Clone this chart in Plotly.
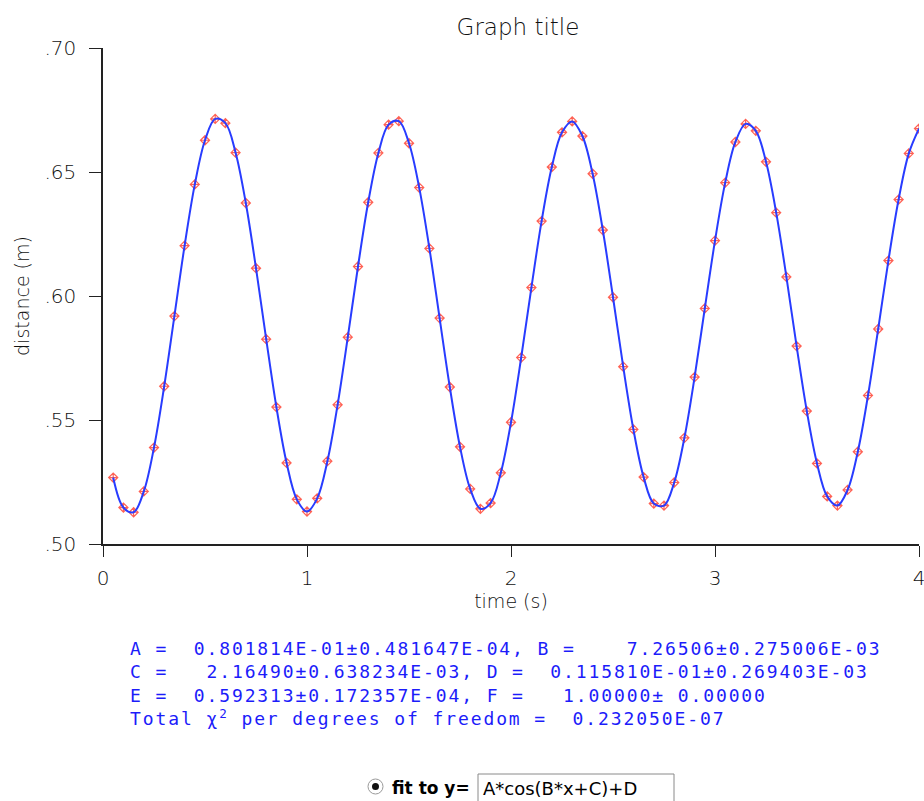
import plotly.graph_objects as go

# ---- data (time in s, distance in m) ----
time_s = [0.05, 0.10, 0.15, 0.20, 0.25, 0.30, 0.35, 0.40, 0.45, 0.50,
          0.55, 0.60, 0.65, 0.70, 0.75, 0.80, 0.85, 0.90, 0.95, 1.00,
          1.05, 1.10, 1.15, 1.20, 1.25, 1.30, 1.35, 1.40, 1.45, 1.50,
          1.55, 1.60, 1.65, 1.70, 1.75, 1.80, 1.85, 1.90, 1.95, 2.00,
          2.05, 2.10, 2.15, 2.20, 2.25, 2.30, 2.35, 2.40, 2.45, 2.50,
          2.55, 2.60, 2.65, 2.70, 2.75, 2.80, 2.85, 2.90, 2.95, 3.00,
          3.05, 3.10, 3.15, 3.20, 3.25, 3.30, 3.35, 3.40, 3.45, 3.50,
          3.55, 3.60, 3.65, 3.70, 3.75, 3.80, 3.85, 3.90, 3.95, 4.00]

distance_m = [0.5268, 0.5147, 0.5128, 0.5212, 0.5389, 0.5636, 0.5919, 0.6203, 0.6450, 0.6628,
              0.6714, 0.6697, 0.6578, 0.6375, 0.6112, 0.5826, 0.5552, 0.5327, 0.5180, 0.5131,
              0.5184, 0.5334, 0.5561, 0.5834, 0.6119, 0.6378, 0.6577, 0.6691, 0.6705, 0.6616,
              0.6437, 0.6192, 0.5911, 0.5633, 0.5392, 0.5222, 0.5142, 0.5165, 0.5287, 0.5491,
              0.5752, 0.6034, 0.6302, 0.6520, 0.6660, 0.6704, 0.6645, 0.6493, 0.6266, 0.5995,
              0.5715, 0.5462, 0.5270, 0.5163, 0.5155, 0.5248, 0.5428, 0.5673, 0.5950, 0.6223,
              0.6457, 0.6621, 0.6694, 0.6666, 0.6541, 0.6336, 0.6077, 0.5798, 0.5536, 0.5325,
              0.5192, 0.5155, 0.5218, 0.5372, 0.5599, 0.5867, 0.6143, 0.6389, 0.6575, 0.6675]

x_tick_vals = [0, 1, 2, 3, 4]
x_tick_text = ["0", "1", "2", "3", "4"]
y_tick_vals = [0.50, 0.55, 0.60, 0.65, 0.70]
y_tick_text = [".50", ".55", ".60", ".65", ".70"]

fit_lines = [
    "A =  0.801814E-01±0.481647E-04, B =    7.26506±0.275006E-03",
    "C =   2.16490±0.638234E-03, D =  0.115810E-01±0.269403E-03",
    "E =  0.592313±0.172357E-04, F =   1.00000± 0.00000",
    "Total χ<sup>2</sup> per degrees of freedom =  0.232050E-07",
]
fit_label = "fit to y="
fit_formula = "A*cos(B*x+C)+D"

# ---- layout geometry (pixels) ----
W, H = 924, 801
ML, MR, MT, MB = 103, 5, 48, 257
PW = W - ML - MR
PH = H - MT - MB


def px(xp):
    return (xp - ML) / PW


def py(yp):
    return (H - MB - yp) / PH


AX_FONT = "DejaVu Sans, Verdana, sans-serif"
TXT_BLUE = "rgb(28,28,250)"

fig = go.Figure()

fig.add_trace(go.Scatter(
    x=time_s, y=distance_m, mode="markers",
    marker=dict(symbol="diamond-cross-open", size=7, color="rgba(255,80,65,0.9)",
                line=dict(width=1.2, color="rgba(255,80,65,0.9)")),
    showlegend=False, hoverinfo="x+y"))

fig.add_trace(go.Scatter(
    x=time_s, y=distance_m, mode="lines",
    line=dict(color="rgb(40,60,255)", width=2, shape="spline", smoothing=1.0),
    showlegend=False, hoverinfo="skip"))

fig.update_layout(
    width=W, height=H,
    margin=dict(l=ML, r=MR, t=MT, b=MB, pad=0, autoexpand=False),
    paper_bgcolor="white", plot_bgcolor="white",
    font=dict(family=AX_FONT, size=20, color="#111111", weight=300),
    title=dict(text="Graph title", x=518 / W, xref="container", xanchor="center",
               y=1 - 27 / H, yref="container", yanchor="middle", automargin=False,
               font=dict(family=AX_FONT, size=23, color="#111111", weight=300)),
    xaxis=dict(range=[0, 4], showgrid=False, zeroline=False, showline=True,
               linecolor="#222", linewidth=1.6, mirror=False, automargin=False,
               ticks="outside", ticklen=11, tickwidth=1.4, tickcolor="#222",
               tickvals=x_tick_vals, ticktext=x_tick_text,
               ticklabelstandoff=4, ticklabeloverflow="allow",
               tickfont=dict(family=AX_FONT, size=20, color="#111111"),
               title=dict(text="time (s)", standoff=0,
                          font=dict(family=AX_FONT, size=19, color="#111111"))),
    yaxis=dict(range=[0.50, 0.70], showgrid=False, zeroline=False, showline=True,
               linecolor="#222", linewidth=1.6, mirror=False, automargin=False,
               ticks="outside", ticklen=12, tickwidth=1.4, tickcolor="#222",
               tickvals=y_tick_vals, ticktext=y_tick_text,
               ticklabelstandoff=9, ticklabeloverflow="allow",
               tickfont=dict(family=AX_FONT, size=20, color="#111111"),
               title=dict(text="distance (m)", standoff=10,
                          font=dict(family=AX_FONT, size=19, color="#111111"))),
)

# fit result text (blue block under the chart), one block with 4 lines
fit_block = "<br>".join(fit_lines)
fig.add_annotation(text='<span style="letter-spacing:1.9px">' + fit_block + "</span>",
                   xref="paper", yref="paper",
                   x=px(128), y=py(636), xanchor="left", yanchor="top",
                   align="left", showarrow=False,
                   font=dict(family="DejaVu Sans Mono, Liberation Mono, monospace",
                             size=18, color=TXT_BLUE))

# radio button + "fit to y=" + input box
fig.add_shape(type="circle", xref="paper", yref="paper",
              x0=px(368), x1=px(383), y0=py(794), y1=py(779),
              line=dict(color="#9a9a9a", width=1), fillcolor="white")
fig.add_shape(type="circle", xref="paper", yref="paper",
              x0=px(372), x1=px(379), y0=py(790), y1=py(783),
              line=dict(color="#111", width=0), fillcolor="#111")
fig.add_annotation(text=fit_label, xref="paper", yref="paper",
                   x=px(390), y=py(788), xanchor="left", yanchor="middle",
                   showarrow=False,
                   font=dict(family="DejaVu Sans, sans-serif", size=17, color="#000",
                             weight=600))
fig.add_shape(type="rect", xref="paper", yref="paper",
              x0=px(478), x1=px(674), y0=py(812), y1=py(774),
              line=dict(color="#8a8a8a", width=1), fillcolor="white")
fig.add_annotation(text=fit_formula, xref="paper", yref="paper",
                   x=px(481), y=py(788), xanchor="left", yanchor="middle",
                   showarrow=False,
                   font=dict(family="DejaVu Sans, sans-serif", size=18, color="#000",
                             weight=400))

# remove the default 8px page margin so the 924x801 figure fills the window
fig.write_html("out.html",
               config={"displayModeBar": False},
               post_script="document.body.style.margin='0';document.body.style.overflow='hidden';")
